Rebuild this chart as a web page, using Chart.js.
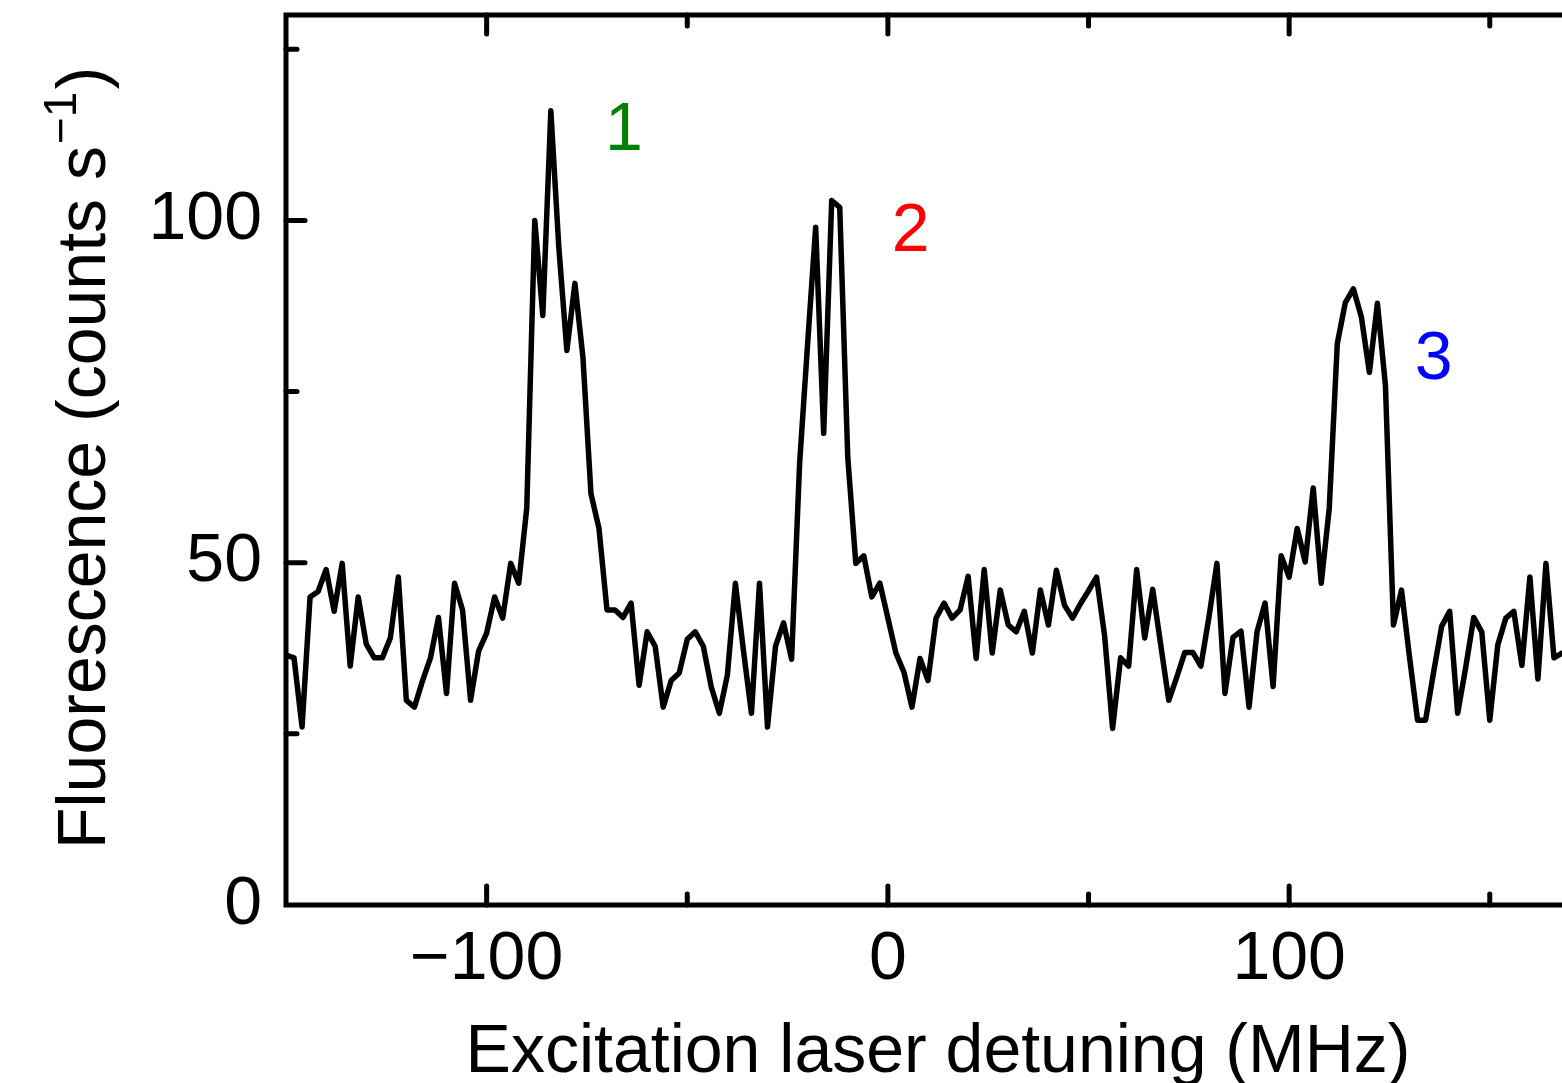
<!DOCTYPE html>
<html>
<head>
<meta charset="utf-8">
<script src="https://cdn.jsdelivr.net/npm/chart.js@4"></script>
<style>
  html, body { margin: 0; padding: 0; background: #fff; }
  canvas { display: block; }
</style>
</head>
<body>
<canvas id="spectrum" width="1562" height="1083"></canvas>
<script>
// detuning in MHz, one point every 2 MHz
var detuning = [
  -150, -148, -146, -144, -142, -140, -138, -136, -134, -132,
  -130, -128, -126, -124, -122, -120, -118, -116, -114, -112,
  -110, -108, -106, -104, -102, -100, -98, -96, -94, -92,
  -90, -88, -86, -84, -82, -80, -78, -76, -74, -72,
  -70, -68, -66, -64, -62, -60, -58, -56, -54, -52,
  -50, -48, -46, -44, -42, -40, -38, -36, -34, -32,
  -30, -28, -26, -24, -22, -20, -18, -16, -14, -12,
  -10, -8, -6, -4, -2, 0, 2, 4, 6, 8,
  10, 12, 14, 16, 18, 20, 22, 24, 26, 28,
  30, 32, 34, 36, 38, 40, 42, 44, 46, 48,
  50, 52, 54, 56, 58, 60, 62, 64, 66, 68,
  70, 72, 74, 76, 78, 80, 82, 84, 86, 88,
  90, 92, 94, 96, 98, 100, 102, 104, 106, 108,
  110, 112, 114, 116, 118, 120, 122, 124, 126, 128,
  130, 132, 134, 136, 138, 140, 142, 144, 146, 148,
  150, 152, 154, 156, 158, 160, 162, 164, 166, 168
];

// counts per second
var fluorescence = [
  36.5, 36.1, 26.0, 45.0, 45.8, 49.0, 42.9, 49.9, 34.9, 45.0,
  38.1, 36.1, 36.1, 39.0, 47.9, 29.9, 28.9, 32.7, 36.1, 42.0,
  30.9, 47.0, 43.1, 29.9, 37.1, 39.7, 45.0, 41.9, 49.9, 47.0,
  58.0, 100, 86.1, 116, 96, 81, 90.8, 80, 60.1, 55,
  43.1, 43.1, 42, 44.1, 32.1, 39.9, 37.8, 28.9, 32.8, 33.9,
  38.8, 39.9, 37.8, 31.8, 28.0, 33.6, 47.0, 37.2, 28.0, 47.0,
  26.0, 37.8, 41.2, 35.9, 64.5, 82, 99.0, 68.9, 102.9, 101.9,
  65.4, 49.9, 51.0, 45.0, 47.0, 41.9, 36.8, 34.0, 28.9, 36.0,
  32.8, 41.9, 44.1, 41.9, 43.1, 48.0, 36.0, 49.0, 36.8, 46.0,
  40.9, 39.9, 42.9, 36.8, 46.0, 40.9, 48.9, 43.8, 41.9, 44.0,
  45.9, 47.9, 39.4, 25.8, 36.1, 34.9, 49.0, 39.0, 46.1, 38.0,
  29.9, 33.3, 36.9, 36.9, 34.9, 42.0, 49.9, 30.9, 39.1, 40.0,
  28.9, 39.9, 44.1, 31.9, 51.0, 47.9, 55.0, 50.1, 60.9, 47.0,
  58.0, 82.0, 88.0, 90.0, 85.9, 77.8, 87.9, 75.9, 40.9, 46.0,
  36.2, 27.0, 27.0, 34.0, 40.7, 42.9, 28.0, 34.7, 42.0, 39.9,
  27.0, 38.0, 41.9, 42.9, 35.0, 47.9, 33.0, 49.9, 36.1, 36.8
];

var xTicks = [-150, -100, -50, 0, 50, 100, 150];
var xLabelled = [-100, 0, 100];
var yTicks = [25, 50, 75, 100, 125];
var yLabelled = [0, 50, 100];

// peak numbers: text, detuning, height
var peakText = ['1', '2', '3'];
var peakX = [-65.8, 5.7, 136.0];
var peakY = [113.0, 98.2, 79.6];
var peakColor = ['#008000', '#ff0000', '#0000ff'];

var FONT = '"Liberation Sans", Arial, Helvetica, sans-serif';

var framePlugin = {
  id: 'frame',
  afterDraw: function(chart) {
    var c = chart.ctx;
    var a = chart.chartArea;
    var xs = chart.scales.x;
    var ys = chart.scales.y;
    c.save();
    c.strokeStyle = '#000';
    c.lineWidth = 5;
    c.lineCap = 'round';
    c.lineJoin = 'miter';
    // box: top, left, bottom (right side is outside the picture)
    c.beginPath();
    c.moveTo(a.right + 5, a.top);
    c.lineTo(a.left, a.top);
    c.lineTo(a.left, a.bottom);
    c.lineTo(a.right + 5, a.bottom);
    c.stroke();

    xTicks.forEach(function(v) {
      var px = xs.getPixelForValue(v);
      var len = xLabelled.indexOf(v) >= 0 ? 19 : 11;
      if (v === -150) return;
      c.beginPath();
      c.moveTo(px, a.bottom);
      c.lineTo(px, a.bottom - len);
      c.moveTo(px, a.top);
      c.lineTo(px, a.top + len);
      c.stroke();
    });
    yTicks.forEach(function(v) {
      var py = ys.getPixelForValue(v);
      var len = yLabelled.indexOf(v) >= 0 ? 19 : 11;
      c.beginPath();
      c.moveTo(a.left, py);
      c.lineTo(a.left + len, py);
      c.stroke();
    });

    // peak labels
    c.font = '68px ' + FONT;
    c.textAlign = 'center';
    c.textBaseline = 'middle';
    peakText.forEach(function(t, i) {
      c.fillStyle = peakColor[i];
      c.fillText(t, xs.getPixelForValue(peakX[i]), ys.getPixelForValue(peakY[i]));
    });

    // x axis title
    c.fillStyle = '#000';
    c.textBaseline = 'alphabetic';
    c.fillText('Excitation laser detuning (MHz)', 938, 1072);

    // y axis title with superscript
    var main1 = 'Fluorescence (counts s';
    var sup = '\u22121';
    var main2 = ')';
    c.font = '68px ' + FONT;
    var w1 = c.measureText(main1).width;
    var w3 = c.measureText(main2).width;
    c.font = '46px ' + FONT;
    var w2 = c.measureText(sup).width;
    var total = w1 + w2 + w3 + 4;
    c.translate(105, (a.top + a.bottom) / 2 - 2);
    c.rotate(-Math.PI / 2);
    c.textAlign = 'left';
    var sx = -total / 2;
    c.font = '68px ' + FONT;
    c.fillText(main1, sx, 0);
    c.font = '46px ' + FONT;
    c.fillText(sup, sx + w1 + 2, -29);
    c.font = '68px ' + FONT;
    c.fillText(main2, sx + w1 + w2 + 4, 0);
    c.restore();
  }
};

var ctx = document.getElementById('spectrum').getContext('2d');
var points = detuning.map(function(d, i) { return { x: d, y: fluorescence[i] }; });

new Chart(ctx, {
  type: 'line',
  data: {
    datasets: [{
      label: 'Fluorescence',
      data: points,
      borderColor: '#000',
      borderWidth: 5.5,
      borderJoinStyle: 'round',
      borderCapStyle: 'round',
      pointRadius: 0,
      tension: 0,
      fill: false
    }]
  },
  options: {
    responsive: false,
    animation: false,
    layout: { padding: { top: 15, left: 0, right: 0, bottom: 0 } },
    plugins: {
      legend: { display: false },
      tooltip: { enabled: false }
    },
    scales: {
      x: {
        type: 'linear',
        min: -150,
        max: 168,
        grid: { display: false, drawTicks: false },
        border: { display: false },
        ticks: {
          stepSize: 50,
          includeBounds: false,
          autoSkip: false,
          maxRotation: 0,
          padding: 14,
          color: '#000',
          font: { family: FONT, size: 68 },
          callback: function(v) {
            if (xLabelled.indexOf(v) < 0) return '';
            return v < 0 ? '\u2212' + Math.abs(v) : String(v);
          }
        },
        afterFit: function(s) {
          s.height = 178;
          s.paddingLeft = 0;
          s.paddingRight = 0;
        }
      },
      y: {
        min: 0,
        max: 130,
        grid: { display: false, drawTicks: false },
        border: { display: false },
        ticks: {
          stepSize: 25,
          includeBounds: false,
          autoSkip: false,
          padding: 24,
          color: '#000',
          font: { family: FONT, size: 68 },
          callback: function(v) {
            return yLabelled.indexOf(v) >= 0 ? String(v) : '';
          }
        },
        afterFit: function(s) {
          s.width = 286;
          s.paddingTop = 0;
          s.paddingBottom = 0;
        }
      }
    }
  },
  plugins: [framePlugin]
});
</script>
</body>
</html>
